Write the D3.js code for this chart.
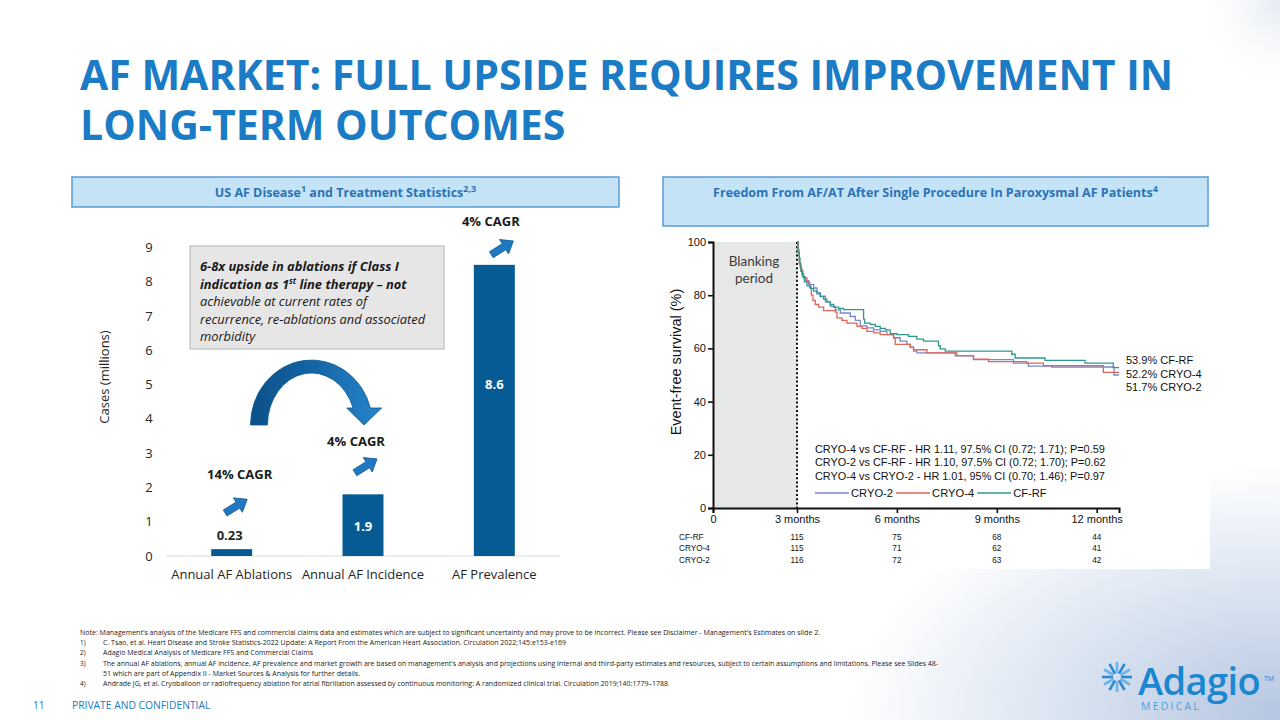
<!DOCTYPE html>
<html>
<head>
<meta charset="utf-8">
<script src="https://cdn.jsdelivr.net/npm/d3@7"></script>
<style>
  body { margin: 0; background: #fff; }
  svg { display: block; font-family: 'Open Sans', sans-serif; }
</style>
</head>
<body>
<svg id="slide" width="1280" height="720"></svg>
<script>
// ---- left chart data
const barCategories = ["Annual AF Ablations", "Annual AF Incidence", "AF Prevalence"]
const barValues = [0.2, 1.8, 8.5]
const barLabels = ["0.23", "1.9", "8.6"]
const cagrLabels = ["14% CAGR", "4% CAGR", "4% CAGR"]
const barTicks = [0, 1, 2, 3, 4, 5, 6, 7, 8, 9]

// ---- right chart data (Kaplan-Meier, months vs event-free %)
const kmTicks = [0, 3, 6, 9, 12]
const kmTickLabels = ["0", "3 months", "6 months", "9 months", "12 months"]
const kmYTicks = [0, 20, 40, 60, 80, 100]
const cfrf = [[3,100],[3.03,97],[3.06,94],[3.09,91],[3.12,89],[3.16,87],[3.22,85],[3.3,83.5],[3.4,82.5],[3.5,81.5],[3.6,80.5],[3.7,79.5],[3.8,78.5],[3.9,77.5],[4.0,76.5],[4.1,75.5],[4.25,75],[4.4,74.6],[5.0,71],[5.03,69.5],[5.2,69],[5.35,68.3],[5.5,67.5],[5.65,67],[5.8,65.5],[6.0,65.2],[6.35,64.5],[6.6,63.5],[6.8,62.7],[7.25,61],[7.3,59.8],[7.45,59],[9.45,57.8],[9.55,56.4],[10.45,55.5],[11.65,54.5],[12.5,52.8],[12.67,52.8]]
const cryo4 = [[3,100],[3.03,96],[3.07,92],[3.1,90],[3.15,88],[3.2,86.5],[3.3,85],[3.38,83],[3.43,80],[3.48,78],[3.55,76.5],[3.65,75.5],[3.8,74.2],[4.15,73.6],[4.2,71.5],[4.35,70.5],[4.5,69.5],[4.8,68.3],[4.95,67.5],[5.1,66.4],[5.3,65.8],[5.5,65.2],[5.9,63.9],[5.95,61.5],[6.4,60.5],[6.5,59.5],[6.9,58.3],[7.8,57.3],[8.3,56],[8.75,55],[9.9,54.5],[10.4,53.5],[12.2,51],[12.67,51]]
const cryo2 = [[3,100],[3.03,96],[3.07,92],[3.12,89],[3.18,87],[3.25,85.5],[3.35,84],[3.5,82.7],[3.6,81],[3.7,79.6],[3.85,77.5],[4.0,75.8],[4.15,74.5],[4.3,73.3],[4.6,72],[4.75,70.5],[4.9,68.5],[5.1,67.7],[5.3,67],[5.5,66.4],[5.7,65.2],[5.9,64],[6.1,62.7],[6.3,61.5],[6.4,60.5],[6.5,59],[6.6,58.3],[7.75,57.2],[8.3,55.8],[9.5,54.5],[9.95,53.3],[10.65,53],[12.52,50],[12.67,50]]
const kmSeries = [
  {name: "CRYO-2", data: cryo2, color: "#7a86cf"},
  {name: "CRYO-4", data: cryo4, color: "#e0665a"},
  {name: "CF-RF", data: cfrf, color: "#2e9a8b"}
]
const finalLabels = ["53.9% CF-RF", "52.2% CRYO-4", "51.7% CRYO-2"]
const hrLines = [
  "CRYO-4 vs CF-RF - HR 1.11, 97.5% CI (0.72; 1.71); P=0.59",
  "CRYO-2 vs CF-RF - HR 1.10, 97.5% CI (0.72; 1.70); P=0.62",
  "CRYO-4 vs CRYO-2 - HR 1.01, 95% CI (0.70; 1.46); P=0.97"
]
const atRiskGroups = ["CF-RF", "CRYO-4", "CRYO-2"]
const atRiskMonths = [3, 6, 9, 12]
const atRisk = [[115, 75, 68, 44], [115, 71, 62, 41], [116, 72, 63, 42]]

const footnotes = [
  ["Note:", "Note: Management's analysis of the Medicare FFS and commercial claims data and estimates which are subject to significant uncertainty and may prove to be incorrect. Please see Disclaimer - Management's Estimates on slide 2.", 820],
  ["1)", "C. Tsao, et al. Heart Disease and Stroke Statistics-2022 Update: A Report From the American Heart Association. Circulation 2022;145:e153-e169", 566],
  ["2)", "Adagio Medical Analysis of Medicare FFS and Commercial Claims", 313],
  ["3)", "The annual AF ablations, annual AF incidence, AF prevalence and market growth are based on management's analysis and projections using internal and third-party estimates and resources, subject to certain assumptions and limitations. Please see Slides 48-", 938],
  ["", "51 which are part of Appendix II - Market Sources & Analysis for further details.", 360],
  ["4)", "Andrade JG, et al. Cryoballoon or radiofrequency ablation for atrial fibrillation assessed by continuous monitoring: A randomized clinical trial. Circulation 2019;140:1779\u20131788", 668]
]

const BLUE = "#1b7bc4"
const svg = d3.select("#slide")
const defs = svg.append("defs")

// frost background bottom right
let frost = defs.append("radialGradient").attr("id", "frost").attr("cx", 1).attr("cy", 1).attr("r", 0.75)
frost.append("stop").attr("offset", 0).attr("stop-color", "#b5c6e1")
frost.append("stop").attr("offset", 0.45).attr("stop-color", "#d6e0ef")
frost.append("stop").attr("offset", 1).attr("stop-color", "#ffffff")
let frost2 = defs.append("radialGradient").attr("id", "frost2").attr("cx", 1).attr("cy", 0).attr("r", 0.5)
frost2.append("stop").attr("offset", 0).attr("stop-color", "#e4eaf3")
frost2.append("stop").attr("offset", 1).attr("stop-color", "#ffffff").attr("stop-opacity", 0)
svg.append("rect").attr("width", 1280).attr("height", 720).attr("fill", "#fff")
svg.append("rect").attr("x", 700).attr("y", 380).attr("width", 580).attr("height", 340).attr("fill", "url(#frost)")
svg.append("rect").attr("x", 1100).attr("y", 0).attr("width", 180).attr("height", 200).attr("fill", "url(#frost2)")

// title (one text, two lines)
{
  let t = svg.append("text").attr("fill", BLUE).attr("font-size", 41).attr("font-weight", 700)
  t.selectAll("tspan").data(["AF MARKET: FULL UPSIDE REQUIRES IMPROVEMENT IN", "LONG-TERM OUTCOMES"]).enter()
    .append("tspan").attr("x", 80).attr("y", (d, i) => 90 + i * 50).text(d => d)
}

// header boxes
const header = (x, w, h, parts) => {
  svg.append("rect").attr("x", x).attr("y", 177).attr("width", w).attr("height", h)
    .attr("fill", "#c4e3f7").attr("stroke", "#5b9bd5").attr("stroke-width", 1.5)
  let t = svg.append("text").attr("x", x + w / 2).attr("y", 197).attr("text-anchor", "middle")
    .attr("fill", "#2b73b6").attr("font-size", 12.5).attr("font-weight", 700)
  parts.forEach(p => {
    let s = t.append("tspan").text(p[0])
    if (p[1]) s.attr("font-size", 9).attr("dy", -5)
    else if (p[2]) s.attr("dy", 5)
  })
}
header(72, 547, 30, [["US AF Disease"], ["1", true], [" and Treatment Statistics", false, true], ["2,3", true]])
header(663, 545, 49, [["Freedom From AF/AT After Single Procedure In Paroxysmal AF Patients"], ["4", true]])

// ---------------- left: bar chart
const bx = d3.scaleBand().domain(barCategories).range([166, 560]).paddingInner(0.688).paddingOuter(0.344)
const by = d3.scaleLinear().domain([0, 9]).range([556, 247.7])
const left = svg.append("g").attr("font-size", 13).attr("fill", "#262626")

left.append("line").attr("x1", 166).attr("x2", 560).attr("y1", by(0)).attr("y2", by(0))
  .attr("stroke", "#d9d9d9").attr("stroke-width", 1.2)
left.selectAll("text.ytick").data(barTicks).enter().append("text").attr("class", "ytick")
  .attr("x", 149).attr("y", d => by(d) + 4.5).attr("text-anchor", "middle").text(d => d)
left.append("text").attr("transform", "translate(109,377) rotate(-90)")
  .attr("text-anchor", "middle").text("Cases (millions)")
left.selectAll("text.cat").data(barCategories).enter().append("text").attr("class", "cat")
  .attr("x", d => bx(d) + bx.bandwidth() / 2).attr("y", 579).attr("text-anchor", "middle").text(d => d)

left.selectAll("rect.bar").data(barValues).enter().append("rect").attr("class", "bar")
  .attr("x", (d, i) => bx(barCategories[i])).attr("width", bx.bandwidth())
  .attr("y", d => by(d)).attr("height", d => by(0) - by(d)).attr("fill", "#075b94")

// label offsets from bar top (layout only)
const valueDy = [-9.5, 37, 124.5]
const valueDx = [-2, 0, 0]
left.selectAll("text.val").data(barLabels).enter().append("text").attr("class", "val")
  .attr("x", (d, i) => bx(barCategories[i]) + bx.bandwidth() / 2 + valueDx[i])
  .attr("y", (d, i) => by(barValues[i]) + valueDy[i])
  .attr("text-anchor", "middle").attr("font-weight", 700)
  .attr("fill", (d, i) => i == 0 ? "#262626" : "#fff").text(d => d)

const cagrDx = [8, -7, -3.5], cagrDy = [-70.5, -48, -39]
const arrowDx = [4.5, 3, 8], arrowDy = [-43, -28.5, -17]
left.selectAll("text.cagr").data(cagrLabels).enter().append("text").attr("class", "cagr")
  .attr("x", (d, i) => bx(barCategories[i]) + bx.bandwidth() / 2 + cagrDx[i])
  .attr("y", (d, i) => by(barValues[i]) + cagrDy[i])
  .attr("text-anchor", "middle").attr("font-weight", 700).attr("fill", "#1a1a1a").text(d => d)

// small up-right block arrows
const blockArrow = "M-13,-3.5 L2,-3.5 L2,-8.5 L13,0 L2,8.5 L2,3.5 L-13,3.5 Z"
left.selectAll("path.up").data(cagrLabels).enter().append("path").attr("class", "up")
  .attr("d", blockArrow)
  .attr("transform", (d, i) => `translate(${bx(barCategories[i]) + bx.bandwidth() / 2 + arrowDx[i]},${by(barValues[i]) + arrowDy[i]}) rotate(-32)`)
  .attr("fill", "#1f78c0").attr("stroke", "#17609c").attr("stroke-width", 0.8)

// callout box
left.append("rect").attr("x", 190).attr("y", 246).attr("width", 254).attr("height", 103)
  .attr("fill", "#e7e6e6").attr("stroke", "#bfbfbf").attr("stroke-width", 1.2)
const callout = [
  [["6-8x upside in ablations if Class I"], 700],
  [["indication as 1"], ["st", 1], [" line therapy \u2013 not", 2], 700],
  [["achievable at current rates of"], 500],
  [["recurrence, re-ablations and associated"], 500],
  [["morbidity"], 500]
]
callout.forEach((line, i) => {
  let t = left.append("text").attr("x", 200).attr("y", 271 + i * 17.5)
    .attr("font-style", "italic").attr("font-size", 12.9).attr("fill", "#1a1a1a")
    .attr("font-weight", line[line.length - 1])
  line.slice(0, -1).forEach(p => {
    let s = t.append("tspan").text(p[0])
    if (p[1] == 1) s.attr("font-size", 8).attr("dy", -5)
    if (p[1] == 2) s.attr("dy", 5)
  })
})

// curved arrow
let cg = defs.append("linearGradient").attr("id", "curve").attr("x1", 0).attr("x2", 1).attr("y1", 0).attr("y2", 0)
cg.append("stop").attr("offset", 0).attr("stop-color", "#0b5088")
cg.append("stop").attr("offset", 0.5).attr("stop-color", "#1566a6")
cg.append("stop").attr("offset", 1).attr("stop-color", "#2585cb")
{
  let cx = 311.5, cy = 425, ro = [61, 65], ri = [44, 52]
  let yEnd = 408
  let oxEnd = cx + ro[0] * Math.cos(Math.asin((cy - yEnd) / ro[1]))
  let ixEnd = cx + ri[0] * Math.cos(Math.asin((cy - yEnd) / ri[1]))
  let d = `M${cx - ro[0]},${cy} A${ro[0]},${ro[1]} 0 0 1 ${oxEnd},${yEnd} L381.7,${yEnd} L364,425 L346.7,${yEnd} L${ixEnd},${yEnd} A${ri[0]},${ri[1]} 0 0 0 ${cx - ri[0]},${cy} Z`
  left.append("path").attr("d", d).attr("fill", "url(#curve)").attr("stroke", "#0d5a95").attr("stroke-width", 0.8)
}

// ---------------- right: KM chart
svg.append("rect").attr("x", 663).attr("y", 229).attr("width", 547).attr("height", 340).attr("fill", "#fff")
const kx = d3.scaleLinear().domain([0, 3, 12.67]).range([713, 797, 1119])
const ky = d3.scaleLinear().domain([0, 100]).range([508, 242])
const km = svg.append("g").attr("font-family", "'Liberation Sans', Arial, sans-serif").attr("fill", "#111")

km.append("rect").attr("x", kx(0)).attr("y", ky(100)).attr("width", kx(3) - kx(0)).attr("height", ky(0) - ky(100))
  .attr("fill", "#e6e7e7")
km.selectAll("text.blank").data(["Blanking", "period"]).enter().append("text").attr("class", "blank")
  .attr("x", (kx(0) + kx(3)) / 2 - 1).attr("y", (d, i) => 266 + i * 16.5).attr("text-anchor", "middle")
  .attr("font-family", "Lato, sans-serif").attr("font-size", 13.5).attr("fill", "#3a3a3a").text(d => d)

const yAx = km.append("g").attr("transform", `translate(${kx(0)},0)`)
  .call(d3.axisLeft(ky).tickValues(kmYTicks).tickSize(5).tickPadding(2))
const xAx = km.append("g").attr("transform", `translate(0,${ky(0)})`)
  .call(d3.axisBottom(kx).tickValues(kmTicks).tickFormat((d, i) => kmTickLabels[i]).tickSize(5).tickPadding(2))
;[yAx, xAx].forEach(a => {
  a.select(".domain").attr("stroke", "#111").attr("stroke-width", 2)
  a.selectAll(".tick line").attr("stroke", "#111").attr("stroke-width", 1.6)
  a.selectAll(".tick text").attr("font-size", 11).attr("fill", "#111").attr("font-family", "'Liberation Sans', Arial, sans-serif")
})
km.append("text").attr("transform", `translate(681,362) rotate(-90)`).attr("text-anchor", "middle")
  .attr("font-size", 14.5).attr("fill", "#111").text("Event-free survival (%)")

km.append("line").attr("x1", kx(3)).attr("x2", kx(3)).attr("y1", ky(100)).attr("y2", ky(0))
  .attr("stroke", "#111").attr("stroke-width", 2).attr("stroke-dasharray", "2,2.2")

const kmLine = d3.line().x(d => kx(d[0])).y(d => ky(d[1])).curve(d3.curveStepAfter)
km.selectAll("path.km").data(kmSeries).enter().append("path").attr("class", "km")
  .attr("d", d => kmLine(d.data)).attr("fill", "none").attr("stroke", d => d.color).attr("stroke-width", 1.3)

km.selectAll("text.final").data(finalLabels).enter().append("text").attr("class", "final")
  .attr("x", 1126).attr("y", (d, i) => 364 + i * 13.5).attr("font-size", 11).text(d => d)

km.selectAll("text.hr").data(hrLines).enter().append("text").attr("class", "hr")
  .attr("x", 815).attr("y", (d, i) => 453 + i * 13.3).attr("font-size", 10.9).text(d => d)

// legend
{
  let lx = 815
  kmSeries.forEach(s => {
    km.append("line").attr("x1", lx).attr("x2", lx + 34).attr("y1", 493).attr("y2", 493)
      .attr("stroke", s.color).attr("stroke-width", 1.3)
    let t = km.append("text").attr("x", lx + 36).attr("y", 497).attr("font-size", 11.2).text(s.name)
    lx += 36 + t.node().getComputedTextLength() + 3
  })
}

// number at risk
atRiskGroups.forEach((g, r) => {
  km.append("text").attr("x", 679).attr("y", 539.5 + r * 11.8).attr("font-size", 8.2).text(g)
  km.selectAll(null).data(atRisk[r]).enter().append("text")
    .attr("x", (d, i) => kx(atRiskMonths[i])).attr("y", 539.5 + r * 11.8)
    .attr("text-anchor", "middle").attr("font-size", 8.2).text(d => d)
})

// ---------------- footnotes
const fn = svg.append("g").attr("font-size", 6.4).attr("fill", "#1a1a1a")
footnotes.forEach((f, i) => {
  let y = 635 + i * 10.2
  if (f[0] == "Note:") {
    fn.append("text").attr("x", 80).attr("y", y).attr("textLength", f[2] - 80).attr("lengthAdjust", "spacingAndGlyphs").text(f[1])
  } else {
    if (f[0]) fn.append("text").attr("x", 80).attr("y", y).text(f[0])
    fn.append("text").attr("x", 103).attr("y", y).attr("textLength", f[2] - 103).attr("lengthAdjust", "spacingAndGlyphs").text(f[1])
  }
})
svg.append("text").attr("x", 33).attr("y", 709).attr("font-size", 10).attr("fill", BLUE).text("11")
svg.append("text").attr("x", 72).attr("y", 709).attr("font-size", 10.3).attr("fill", BLUE).text("PRIVATE AND CONFIDENTIAL")

// ---------------- logo
{
  const logo = svg.append("g")
  const cx = 1117, cy = 677
  d3.range(12).forEach(k => {
    let a = k * Math.PI / 6
    logo.append("line").attr("x1", cx + 4 * Math.cos(a)).attr("y1", cy + 4 * Math.sin(a))
      .attr("x2", cx + 15 * Math.cos(a)).attr("y2", cy + 15 * Math.sin(a))
      .attr("stroke", k % 2 ? "#6fb4e6" : "#2a8ad4").attr("stroke-width", 2.6)
  })
  let t = logo.append("text").attr("fill", "#1a87d0")
  t.append("tspan").attr("x", 1138).attr("y", 695).attr("font-size", 38).attr("font-weight", 600)
    .attr("letter-spacing", -0.6).text("Adagio")
  t.append("tspan").attr("x", 1264).attr("y", 681).attr("font-size", 7).text("TM")
  t.append("tspan").attr("x", 1141).attr("y", 710).attr("font-size", 10.5).attr("letter-spacing", 2.2)
    .attr("fill", "#4ea2dc").text("MEDICAL")
}
</script>
</body>
</html>
